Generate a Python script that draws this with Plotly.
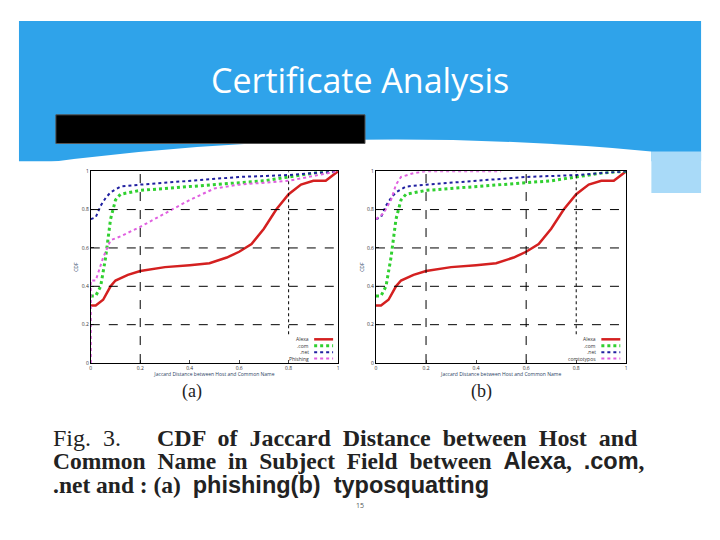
import plotly.graph_objects as go

W, H = 720, 540
OFF = 8
def px(x): return (x - OFF) / W
def py(y): return 1 - (y - OFF) / H

a_alexa_x = [0,0.02,0.05,0.08,0.1,0.15,0.2,0.3,0.4,0.48,0.55,0.6,0.65,0.7,0.75,0.8,0.85,0.9,0.95,1]
a_alexa_y = [0.30,0.30,0.33,0.40,0.43,0.46,0.48,0.50,0.51,0.52,0.55,0.58,0.62,0.70,0.80,0.88,0.93,0.95,0.95,1]
com_x = [0,0.02,0.04,0.06,0.08,0.1,0.12,0.2,0.3,0.5,0.7,0.8,0.9,1]
com_y = [0.35,0.35,0.40,0.55,0.75,0.85,0.88,0.90,0.91,0.93,0.95,0.97,0.99,1]
net_x = [0,0.02,0.04,0.06,0.08,0.12,0.2,0.4,0.6,0.8,1]
net_y = [0.75,0.76,0.82,0.86,0.89,0.92,0.93,0.95,0.97,0.98,1]
phish_x = [0,0,0.02,0.05,0.08,0.12,0.2,0.3,0.4,0.5,0.6,0.8,1]
phish_y = [0,0.43,0.43,0.55,0.64,0.66,0.71,0.78,0.85,0.91,0.93,0.95,1]
typo_x = [0,0.03,0.06,0.08,0.1,0.15,0.2,0.5]
typo_y = [0.75,0.78,0.85,0.93,0.97,0.99,1,1]
ticks = [0,0.2,0.4,0.6,0.8,1]
tick_text = ["0","0.2","0.4","0.6","0.8","1"]

fig = go.Figure()
specs = [
    ("x", "y", 336, [("Alexa", a_alexa_x, a_alexa_y, "#d42020", "solid", 2.5),
                     (".com", com_x, com_y, "#30d030", "dot", 3),
                     (".net", net_x, net_y, "#2020a0", "dot", 2),
                     ("Phishing", phish_x, phish_y, "#e060e0", "dot", 2)]),
    ("x2", "y2", 624, [("Alexa", a_alexa_x, a_alexa_y, "#d42020", "solid", 2.5),
                       (".com", com_x, com_y, "#30d030", "dot", 3),
                       (".net", net_x, net_y, "#2020a0", "dot", 2),
                       ("comtotypos", typo_x, typo_y, "#e060e0", "dot", 2)]),
]
shapes = [
    dict(type="rect", xref="paper", yref="paper", x0=px(18), x1=px(702), y0=py(160), y1=py(18),
         fillcolor="#2fa3ea", line_width=0, layer="below"),
    dict(type="rect", xref="paper", yref="paper", x0=px(652), x1=px(702), y0=py(192), y1=py(150),
         fillcolor="#a9daf8", line_width=0, layer="below"),
    dict(type="path", xref="paper", yref="paper", layer="below", fillcolor="white", line_width=0,
         path=f"M {px(18)},{py(165)} Q {px(330)},{py(120)} {px(652)},{py(150)} L {px(652)},{py(560)} L {px(18)},{py(560)} Z"),
    dict(type="rect", xref="paper", yref="paper", x0=px(55), x1=px(365), y0=py(142), y1=py(113),
         fillcolor="black", line=dict(color="#555", width=1)),
]
ann = []
for xa, ya, rx, series in specs:
    for i, (name, xs, ys, c, dash, w) in enumerate(series):
        fig.add_trace(go.Scatter(x=xs, y=ys, name=name, mode="lines", xaxis=xa, yaxis=ya,
                                 showlegend=False, line=dict(color=c, dash=dash, width=w)))
        ly = 340 + i * 6.5
        shapes.append(dict(type="line", xref="paper", yref="paper", x0=px(rx - 22), x1=px(rx - 3),
                           y0=py(ly), y1=py(ly), line=dict(color=c, dash=dash, width=w)))
        ann.append(dict(x=px(rx - 25), y=py(ly), text=name, xanchor="right",
                        font=dict(size=5, color="#333")))

ax = dict(range=[0,1], tickvals=ticks, ticktext=tick_text, showgrid=False, zeroline=False,
          showline=True, mirror=True, linecolor="black", linewidth=1, ticks="inside",
          ticklen=3, tickfont=dict(size=5, color="#333"))
xt = dict(text="Jaccard Distance between Host and Common Name", font=dict(size=5), standoff=2)
yt = dict(text="CDF", font=dict(size=5), standoff=2)
fig.update_layout(
    width=W, height=H, margin=dict(l=0, r=0, t=0, b=0), paper_bgcolor="white", plot_bgcolor="white",
    xaxis=dict(ax, domain=[px(90), px(338)], anchor="y", title=xt),
    yaxis=dict(ax, domain=[py(364), py(170)], anchor="x", title=yt),
    xaxis2=dict(ax, domain=[px(376), px(627)], anchor="y2", title=xt),
    yaxis2=dict(ax, domain=[py(364), py(170)], anchor="x2", title=yt),
    showlegend=False,
)
for xa, ya, vx in [("x", "y", [0.2, 0.8]), ("x2", "y2", [0.2, 0.6, 0.8])]:
    for v in [0.2, 0.4, 0.6, 0.8]:
        shapes.append(dict(type="line", xref=xa, yref=ya, x0=0, x1=1, y0=v, y1=v,
                           line=dict(color="black", width=1, dash="dash")))
    for v in vx:
        shapes.append(dict(type="line", xref=xa, yref=ya, x0=v, x1=v, y0=0.15 if v == 0.8 else 0, y1=1,
                           line=dict(color="black", width=1, dash="dot" if v == 0.8 else "dash")))
fig.update_layout(shapes=shapes)

serif = "Liberation Serif"
sans = "Liberation Sans"
ann += [
    dict(x=px(360), y=py(78), text="Certificate Analysis", font=dict(size=34, color="white", family="Open Sans")),
    dict(x=px(192), y=py(393), text="(a)", font=dict(size=18, family=serif, color="#222")),
    dict(x=px(482), y=py(393), text="(b)", font=dict(size=18, family=serif, color="#222")),
    dict(x=px(360), y=py(508), text="15", font=dict(size=7, color="#555")),
    dict(x=px(50), y=py(440), xanchor="left",
         text="<span style='font-weight:normal'>Fig.  3.</span>      <b>CDF  of  Jaccard  Distance  between  Host  and</b>",
         font=dict(size=24, family=serif, color="#222")),
    dict(x=px(50), y=py(463), xanchor="left",
         text=f"<b>Common  Name  in  Subject  Field  between  <span style='font-family:{sans}'>Alexa</span>,  <span style='font-family:{sans}'>.com</span>,</b>",
         font=dict(size=23.5, family=serif, color="#222")),
    dict(x=px(50), y=py(487), xanchor="left",
         text=f"<b>.net and : (a)  <span style='font-family:{sans}'>phishing(b)  typosquatting</span></b>",
         font=dict(size=23.5, family=serif, color="#222")),
]
for a in ann:
    a.update(xref="paper", yref="paper", showarrow=False, yanchor="middle")
    a.setdefault("xanchor", "center")
fig.update_layout(annotations=ann)
fig.write_html("out.html")
